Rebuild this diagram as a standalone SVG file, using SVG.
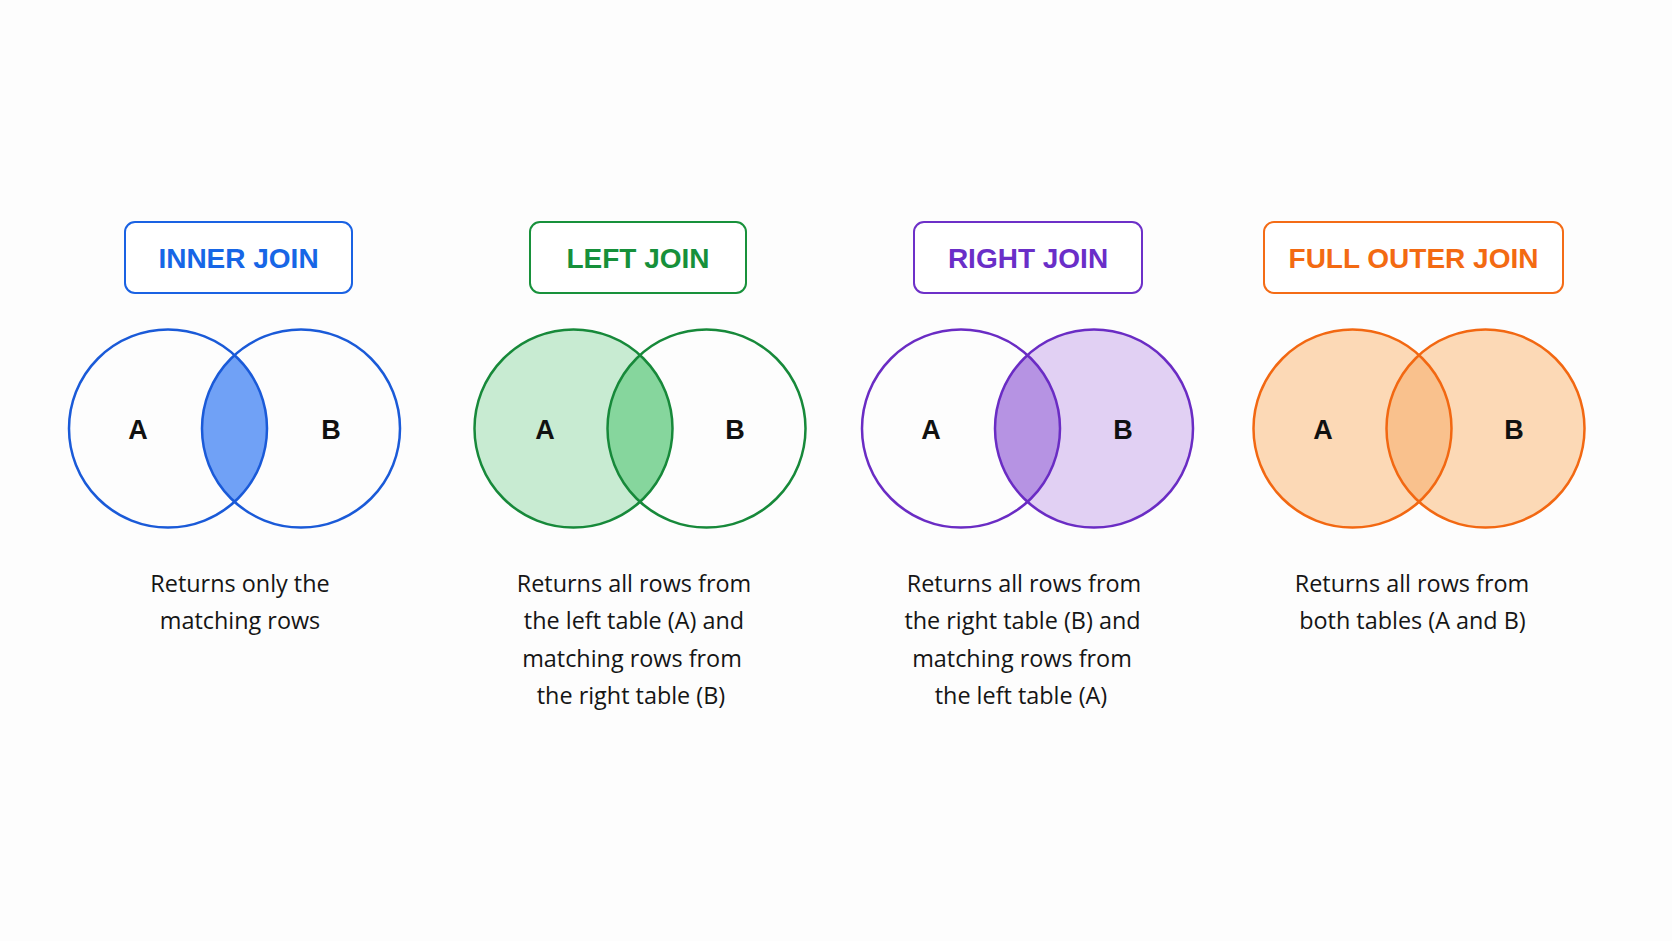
<svg xmlns="http://www.w3.org/2000/svg" width="1672" height="941" viewBox="0 0 1672 941">
<style>
.title{font-family:"Liberation Sans",Arial,sans-serif;font-weight:bold;font-size:28px;text-anchor:middle}
.box{fill:#ffffff;stroke-width:2}
.ring{fill:none;stroke-width:2.5}
.lbl{font-family:"Liberation Sans",Arial,sans-serif;font-weight:bold;font-size:27px;fill:#111111;text-anchor:middle}
.desc{font-family:"Open Sans","Liberation Sans",sans-serif;font-size:23.4px;fill:#151515;text-anchor:middle}
</style>
<rect width="1672" height="941" fill="#fdfdfd"/>

<g id="inner-join">
  <rect class="box" x="125" y="222" width="227" height="71" rx="10" stroke="#1a62e3"/>
  <text class="title" x="238.5" y="268" fill="#1766e6">INNER JOIN</text>
  <path d="M234.5,355.2 A99,99 0 0 1 234.5,501.8 A99,99 0 0 1 234.5,355.2 Z" fill="#70a1f6"/>
  <circle class="ring" cx="168" cy="428.5" r="99" stroke="#1a5ad8"/>
  <circle class="ring" cx="301" cy="428.5" r="99" stroke="#1a5ad8"/>
  <text class="lbl" x="138" y="439">A</text>
  <text class="lbl" x="331" y="439">B</text>
  <text class="desc" x="240" y="592">Returns only the</text>
  <text class="desc" x="240" y="629">matching rows</text>
</g>

<g id="left-join">
  <rect class="box" x="530" y="222" width="216" height="71" rx="10" stroke="#18913b"/>
  <text class="title" x="638" y="268" fill="#16903a">LEFT JOIN</text>
  <circle cx="573.5" cy="428.5" r="99" fill="#c8ebd2"/>
  <path d="M640,355.2 A99,99 0 0 1 640,501.8 A99,99 0 0 1 640,355.2 Z" fill="#86d69d"/>
  <circle class="ring" cx="573.5" cy="428.5" r="99" stroke="#17893a"/>
  <circle class="ring" cx="706.5" cy="428.5" r="99" stroke="#17893a"/>
  <text class="lbl" x="545" y="439">A</text>
  <text class="lbl" x="735" y="439">B</text>
  <text class="desc" x="634" y="592">Returns all rows from</text>
  <text class="desc" x="634" y="629">the left table (A) and</text>
  <text class="desc" x="632" y="666.5">matching rows from</text>
  <text class="desc" x="631" y="704">the right table (B)</text>
</g>

<g id="right-join">
  <rect class="box" x="914" y="222" width="228" height="71" rx="10" stroke="#6d30c8"/>
  <text class="title" x="1028" y="268" fill="#6a2ec8">RIGHT JOIN</text>
  <circle cx="1094" cy="428.5" r="99" fill="#e1d0f3"/>
  <path d="M1027.5,355.2 A99,99 0 0 1 1027.5,501.8 A99,99 0 0 1 1027.5,355.2 Z" fill="#b693e3"/>
  <circle class="ring" cx="961" cy="428.5" r="99" stroke="#6a2cc4"/>
  <circle class="ring" cx="1094" cy="428.5" r="99" stroke="#6a2cc4"/>
  <text class="lbl" x="931" y="439">A</text>
  <text class="lbl" x="1123" y="439">B</text>
  <text class="desc" x="1024" y="592">Returns all rows from</text>
  <text class="desc" x="1022.5" y="629">the right table (B) and</text>
  <text class="desc" x="1022" y="666.5">matching rows from</text>
  <text class="desc" x="1021" y="704">the left table (A)</text>
</g>

<g id="full-outer-join">
  <rect class="box" x="1264" y="222" width="299" height="71" rx="10" stroke="#f46c16"/>
  <text class="title" x="1413.5" y="268" fill="#f36a12">FULL OUTER JOIN</text>
  <circle cx="1352.5" cy="428.5" r="99" fill="#fcd9b6"/>
  <circle cx="1485.5" cy="428.5" r="99" fill="#fcd9b6"/>
  <path d="M1419,355.2 A99,99 0 0 1 1419,501.8 A99,99 0 0 1 1419,355.2 Z" fill="#f9c18d"/>
  <circle class="ring" cx="1352.5" cy="428.5" r="99" stroke="#f26812"/>
  <circle class="ring" cx="1485.5" cy="428.5" r="99" stroke="#f26812"/>
  <text class="lbl" x="1323" y="439">A</text>
  <text class="lbl" x="1514" y="439">B</text>
  <text class="desc" x="1412" y="592">Returns all rows from</text>
  <text class="desc" x="1412.5" y="629">both tables (A and B)</text>
</g>

<g id="connectors"/>
</svg>
